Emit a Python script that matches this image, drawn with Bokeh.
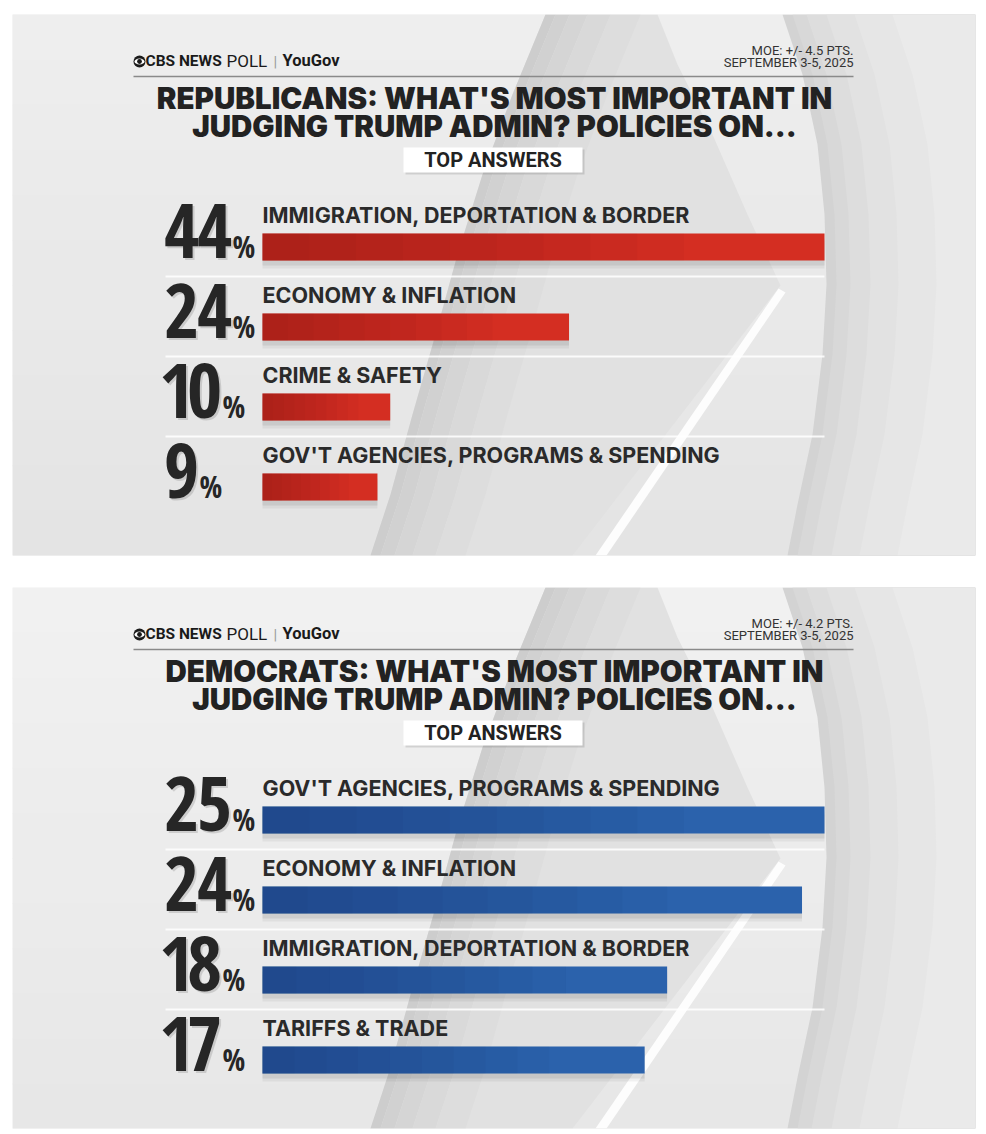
from bokeh.plotting import figure
from bokeh.models import Range1d
from bokeh.layouts import column
from bokeh.core.properties import value
from bokeh.embed import file_html
from bokeh.resources import INLINE

# ---------------- data ----------------
rep_categories = ["IMMIGRATION, DEPORTATION & BORDER", "ECONOMY & INFLATION",
                  "CRIME & SAFETY", "GOV'T AGENCIES, PROGRAMS & SPENDING"]
rep_values = [44, 24, 10, 9]
dem_categories = ["GOV'T AGENCIES, PROGRAMS & SPENDING", "ECONOMY & INFLATION",
                  "IMMIGRATION, DEPORTATION & BORDER", "TARIFFS & TRADE"]
dem_values = [25, 24, 18, 17]
rep_title = ["REPUBLICANS: WHAT'S MOST IMPORTANT IN", "JUDGING TRUMP ADMIN? POLICIES ON..."]
dem_title = ["DEMOCRATS: WHAT'S MOST IMPORTANT IN", "JUDGING TRUMP ADMIN? POLICIES ON..."]
rep_moe = "MOE: +/- 4.5 PTS."
dem_moe = "MOE: +/- 4.2 PTS."
field_dates = "SEPTEMBER 3-5, 2025"
subtitle = "TOP ANSWERS"
brand = ["CBS NEWS", "POLL", "|", "YouGov"]

PW, PH = 963, 541
LABEL_FONT = value("Inter")
TITLE_FONT = value("Inter Black")
HEAD_FONT = value("Roboto")
NUM_FONT = value("Open Sans Condensed")
INK = "#262626"
BL = 0.4  # baseline correction (fraction of font size)


def by(y, fs):
    return y - BL * fs


def mix(c1, c2, t):
    a = [int(c1[i:i + 2], 16) for i in (1, 3, 5)]
    b = [int(c2[i:i + 2], 16) for i in (1, 3, 5)]
    return "#" + "".join("%02x" % round(a[k] + (b[k] - a[k]) * t) for k in range(3))


def background(p, top_col, bot_col):
    n = 12
    for k in range(n):
        p.quad(left=0, right=PW, top=k * PH / n, bottom=(k + 1) * PH / n + 1,
               fill_color=mix(top_col, bot_col, k / (n - 1)), line_color=None, x_range_name="px")
    cx = [770, 790, 805, 812, 814, 810, 800, 785, 775]
    cy = [0, 60, 130, 200, 270, 340, 420, 490, 541]
    for dx, col in [(0, "#d3d3d3"), (10, "#d8d8d8"), (24, "#dddddd"), (44, "#e2e2e2"),
                    (72, "#e6e6e6"), (110, "#eaeaea")]:
        p.patch([x + dx for x in cx] + [PW, PW], cy + [PH, 0], fill_color=col,
                line_color=None, x_range_name="px")
    ax = [533, 500, 470, 445, 423, 400, 378, 358]
    ay = [0, 80, 160, 240, 320, 400, 480, 541]
    rx = [560, 768, 735, 700, 665, 645]
    ry = [541, 271, 200, 120, 50, 0]
    p.patch(ax + rx, ay + ry, fill_color="#e1e1e1", line_color=None, x_range_name="px")
    for d0, d1, col in [(0, 10, "#cdcdcd"), (10, 24, "#d1d1d1"), (24, 42, "#d5d5d5"),
                        (42, 65, "#d9d9d9"), (65, 95, "#dddddd")]:
        p.patch([x + d0 for x in ax] + [x + d1 for x in ax[::-1]], ay + ay[::-1],
                fill_color=col, line_color=None, x_range_name="px")
    p.patch([766, 773, 594, 583], [274, 278, 541, 541], fill_color="white",
            fill_alpha=0.9, line_color=None, x_range_name="px")


def number_text(p, xleft, baseline, txt):
    cur = xleft
    xs, chars = [], []
    for ch in txt:
        w = 22 if ch == "1" else 32
        xs.append(cur + w / 2)
        chars.append(ch)
        cur += w + 1
    fs = 76
    p.text(x=[x + 2 for x in xs], y=[by(baseline, fs) + 2] * len(xs), text=chars,
           x_range_name="px", text_font=NUM_FONT, text_font_style="bold",
           text_font_size="%dpx" % fs, text_align="center", text_baseline="alphabetic",
           text_color="black", text_alpha=0.13)
    p.text(x=xs, y=[by(baseline, fs)] * len(xs), text=chars, x_range_name="px",
           text_font=NUM_FONT, text_font_style="bold", text_font_size="%dpx" % fs,
           text_align="center", text_baseline="alphabetic", text_color=INK)
    p.text(x=[cur + 1], y=[by(baseline - 2, 30)], text=["%"], x_range_name="px",
           text_font=NUM_FONT, text_font_style="bold", text_font_size="30px",
           text_align="left", text_baseline="alphabetic", text_color=INK)


def make_panel(cats, vals, title_lines, moe, bar_col, dark_col, fig_h, top_b, bot_b,
               top_col, bot_col):
    vmax = max(vals)
    s = 562.0 / vmax
    p = figure(width=986, height=fig_h, x_range=Range1d(-250 / s, 713 / s),
               y_range=Range1d(PH, 0), min_border_left=12, min_border_right=11,
               min_border_top=top_b, min_border_bottom=bot_b,
               x_axis_location=None, y_axis_location=None, toolbar_location=None,
               output_backend="svg", outline_line_color=None,
               background_fill_color=top_col, border_fill_color="white")
    p.extra_x_ranges = {"px": Range1d(0, PW)}
    p.grid.visible = False

    background(p, top_col, bot_col)

    # header
    p.circle(x=[127], y=[47], radius=6, fill_color="#1a1a1a", line_color=None, x_range_name="px")
    p.ellipse(x=[127], y=[47], width=10, height=6, fill_color="white", line_color=None,
              x_range_name="px")
    p.circle(x=[127], y=[47], radius=2.4, fill_color="#1a1a1a", line_color=None, x_range_name="px")
    p.text(x=[133], y=[by(53, 15.5)], text=[brand[0]], x_range_name="px", text_font=HEAD_FONT,
           text_font_style="bold", text_font_size="15.5px", text_baseline="alphabetic",
           text_color="#1a1a1a")
    p.text(x=[214], y=[by(53, 17)], text=[brand[1]], x_range_name="px", text_font=HEAD_FONT,
           text_font_style="normal", text_font_size="17px", text_baseline="alphabetic",
           text_color="#1a1a1a")
    p.text(x=[261], y=[by(53, 15)], text=[brand[2]], x_range_name="px", text_font=HEAD_FONT,
           text_font_style="normal", text_font_size="15px", text_baseline="alphabetic",
           text_color="#9a9a9a")
    p.text(x=[270], y=[by(53, 16.5)], text=[brand[3]], x_range_name="px", text_font=HEAD_FONT,
           text_font_style="bold", text_font_size="16.5px", text_baseline="alphabetic",
           text_color="#1a1a1a")
    p.text(x=[841, 841], y=[by(41, 13), by(53, 13)], text=[moe, field_dates],
           x_range_name="px", text_font=HEAD_FONT, text_font_style="normal",
           text_font_size="13px", text_align="right", text_baseline="alphabetic",
           text_color="#333333")
    p.segment(x0=[121], x1=[841], y0=[62], y1=[62], line_color="#8a8a8a", line_width=1.5,
              x_range_name="px")

    # title
    p.text(x=[482, 482], y=[by(95, 29.5), by(123, 29.5)], text=title_lines, x_range_name="px",
           text_font=TITLE_FONT, text_font_style="normal", text_font_size="29.5px",
           text_align="center", text_baseline="alphabetic", text_color="#222222")

    # subtitle box
    p.quad(left=[393], right=[572], top=[135], bottom=[160], fill_color="black",
           fill_alpha=0.12, line_color=None, x_range_name="px")
    p.quad(left=[391], right=[570], top=[133], bottom=[158], fill_color="white",
           line_color=None, x_range_name="px")
    p.text(x=[480.5], y=[by(153.5, 20)], text=[subtitle], x_range_name="px", text_font=HEAD_FONT,
           text_font_style="bold", text_font_size="20px", text_align="center",
           text_baseline="alphabetic", text_color="#222222")

    n = len(vals)
    tops = [219 + 80 * i for i in range(n)]
    centers = [t + 13.5 for t in tops]
    seps = [t + 43 for t in tops[:-1]]
    p.segment(x0=[153] * len(seps), x1=[812] * len(seps), y0=seps, y1=seps,
              line_color="white", line_width=2, line_alpha=0.85, x_range_name="px")
    p.hbar(y=[c + 5 for c in centers], left=0, right=vals, height=27, fill_color="black",
           fill_alpha=0.07, line_color=None)
    p.hbar(y=[c + 8 for c in centers], left=0, right=vals, height=27,
           fill_color="black", fill_alpha=0.05, line_color=None)
    p.hbar(y=centers, left=0, right=vals, height=27, fill_color=bar_col, line_color=None)
    N = 9
    for k in range(1, N + 1):
        p.hbar(y=centers, left=0, right=[v * 0.75 * k / N for v in vals], height=27,
               fill_color=dark_col, fill_alpha=0.05, line_color=None)
    p.text(x=[0] * n, y=[by(t - 10, 21.5) for t in tops], text=cats, text_font=LABEL_FONT,
           text_font_style="bold", text_font_size="21.5px", text_baseline="alphabetic",
           text_color="#2a2a2a")
    for i, v in enumerate(vals):
        number_text(p, 153, tops[i] + 27, str(v))
    return p


p1 = make_panel(rep_categories, rep_values, rep_title, rep_moe, "#d42e22", "#7a0e0e",
                571, 14, 16, "#eeeeee", "#e4e4e4")
p2 = make_panel(dem_categories, dem_values, dem_title, dem_moe, "#2b62ac", "#0d2a5c",
                563, 16, 6, "#f1f1f1", "#e7e7e7")

layout = column(p1, p2, spacing=0)
open("out.html", "w").write(file_html(layout, INLINE))
